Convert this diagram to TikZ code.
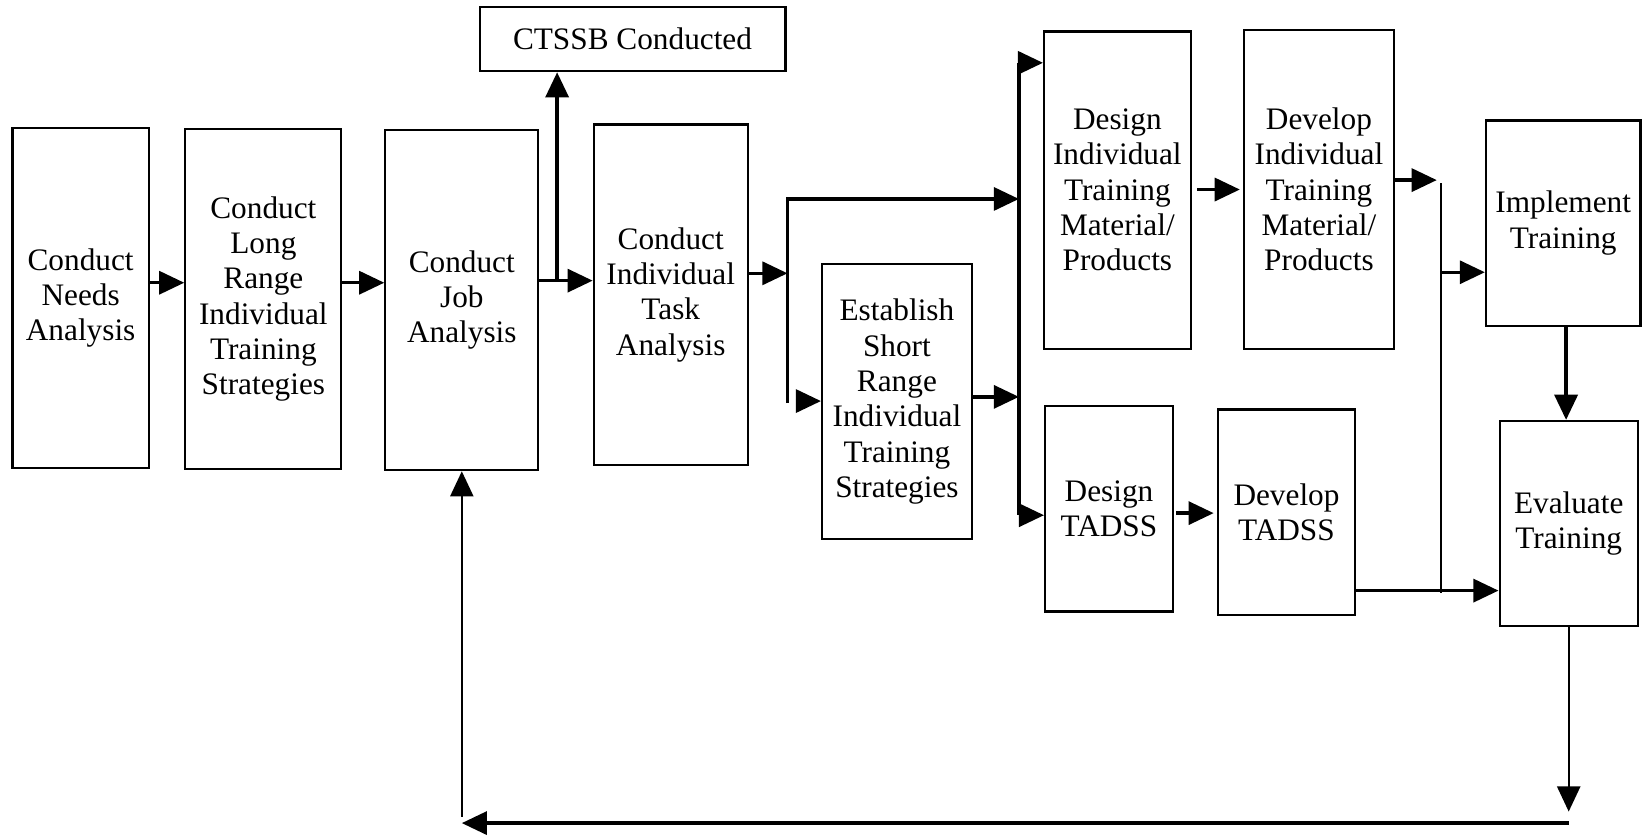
\documentclass[tikz,border=0pt]{standalone}
\usepackage{fontspec}
\setmainfont{Liberation Serif}
\usetikzlibrary{arrows.meta}

\begin{document}
\begin{tikzpicture}[
                etape/.style={draw, line width=0.6pt, align=center, inner sep=1pt, font=\fontsize{8.5}{9.6}\selectfont},
                fleche/.style={line width=0.9pt, -{Triangle[length=2.4mm, width=2.2mm]}},
                fleche fine/.style={line width=0.6pt, -{Triangle[length=2.4mm, width=2.2mm]}},
                bus/.style={line width=0.9pt},
                bus fin/.style={line width=0.6pt}
            ]
                \useasboundingbox (0,0) rectangle (15.68,-7.98);

                % Définir les étapes (nœuds)
                \node[etape, minimum width=1.30cm, minimum height=3.25cm] (P1) at (0.77,-2.845) {Conduct\\Needs\\Analysis};
                \node[etape, minimum width=1.49cm, minimum height=3.25cm] (P2) at (2.515,-2.855) {Conduct\\Long\\Range\\Individual\\Training\\Strategies};
                \node[etape, minimum width=1.46cm, minimum height=3.25cm] (P3) at (4.41,-2.865) {Conduct\\Job\\Analysis};
                \node[etape, minimum width=1.47cm, minimum height=3.25cm] (P4) at (6.405,-2.815) {Conduct\\Individual\\Task\\Analysis};
                \node[etape, minimum width=2.92cm, minimum height=0.61cm] (P5) at (6.04,-0.375) {CTSSB Conducted};
                \node[etape, minimum width=1.43cm, minimum height=2.63cm] (P6) at (8.565,-3.835) {Establish\\Short\\Range\\Individual\\Training\\Strategies};
                \node[etape, minimum width=1.40cm, minimum height=3.03cm] (P7) at (10.67,-1.815) {Design\\Individual\\Training\\Material/\\Products};
                \node[etape, minimum width=1.43cm, minimum height=3.04cm] (P8) at (12.595,-1.81) {Develop\\Individual\\Training\\Material/\\Products};
                \node[etape, minimum width=1.475cm, minimum height=1.96cm] (P9) at (14.9275,-2.13) {Implement\\Training};
                \node[etape, minimum width=1.32cm, minimum height=1.96cm] (P10) at (14.98,-5.00) {Evaluate\\Training};
                \node[etape, minimum width=1.22cm, minimum height=1.96cm] (P11) at (10.59,-4.86) {Design\\TADSS};
                \node[etape, minimum width=1.31cm, minimum height=1.96cm] (P12) at (12.285,-4.89) {Develop\\TADSS};

                % Points de jonction
                \coordinate (J0) at (5.32,-2.68);
                \coordinate (J1) at (7.52,-2.61);
                \coordinate (B1a) at (7.52,-1.90);
                \coordinate (B1b) at (7.52,-3.85);
                \coordinate (B2a) at (9.73,-0.60);
                \coordinate (B2b) at (9.73,-4.92);
                \coordinate (B3a) at (13.76,-1.75);
                \coordinate (B3b) at (13.76,-5.66);

                % Analyse (flèches de gauche)
                \draw[fleche] (P1.east |- 0,-2.70) -- (P2.west |- 0,-2.70);
                \draw[fleche] (P2.east |- 0,-2.70) -- (P3.west |- 0,-2.70);
                \draw[fleche] (P3.east |- J0) -- (P4.west |- J0);
                \draw[fleche] (J0) -- (J0 |- P5.south);
                \draw[fleche] (P4.east |- J1) -- (J1);

                % Conception (bus verticaux)
                \draw[fleche] (B1b) -- (B1a) -- (B1a -| B2a);
                \draw[fleche] (7.60,-3.83) -- (P6.west |- 0,-3.83);
                \draw[bus] (B2a) -- (B2b);
                \draw[fleche] (B2a) -- (P7.west |- B2a);
                \draw[fleche] (B2b) -- (P11.west |- B2b);
                \draw[fleche] (P6.east |- 0,-3.79) -- (B2a |- 0,-3.79);
                \draw[fleche, shorten <=0.5mm, shorten >=0.3mm] (P7.east |- 0,-1.81) -- (P8.west |- 0,-1.81);
                \draw[fleche, shorten <=0.2mm, shorten >=0.3mm] (P11.east |- 0,-4.90) -- (P12.west |- 0,-4.90);

                % Développement et mise en oeuvre
                \draw[fleche, shorten >=0.4mm] (P8.east |- 0,-1.72) -- (B3a |- 0,-1.72);
                \draw[bus fin] (B3a) -- (B3b);
                \draw[fleche] (B3a |- 0,-2.60) -- (P9.west |- 0,-2.60);
                \draw[fleche] (P12.east |- 0,-5.64) -- (P10.west |- 0,-5.64);
                \draw[fleche] (P9.south -| 14.955,0) -- (P10.north -| 14.955,0);

                % Boucle de retour
                \draw[fleche fine] (P10.south) -- (P10.south |- 0,-7.75);
                \draw[fleche] (P10.south |- 0,-7.86) -- (P3.south |- 0,-7.86);
                \draw[fleche fine] (P3.south |- 0,-7.80) -- (P3.south);
            \end{tikzpicture}
\end{document}
